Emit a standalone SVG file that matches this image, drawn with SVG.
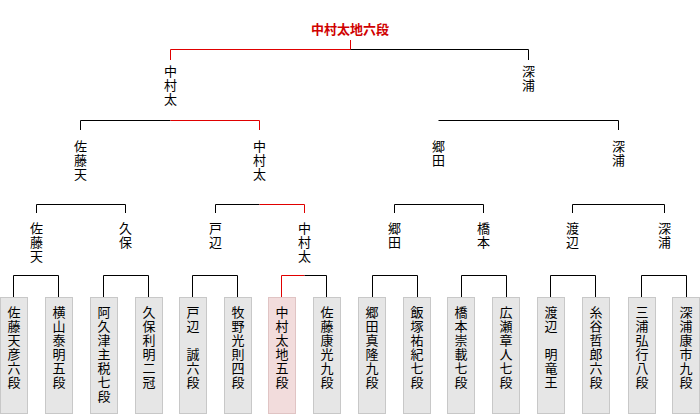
<svg xmlns="http://www.w3.org/2000/svg" width="700" height="415" viewBox="0 0 700 415">
<style>
text{font-family:"Noto Sans CJK JP",sans-serif;font-size:13px;fill:#000;text-anchor:middle}
.t{fill:#d00000;font-weight:bold}
.k{stroke:#000;stroke-width:1;fill:none}
.r{stroke:#e00000;stroke-width:1;fill:none}
.b{fill:#e6e6e6;stroke:#c8c8c8}
.w{fill:#f2dcdc;stroke:#e0c4c4}
</style>
<rect width="700" height="415" fill="#fff"/>
<g id="connectors">
<path class="r" d="M350.5 40V49.5H170.5V60"/>
<path class="k" d="M350.5 49.5H528.5V60"/>
<path class="k" d="M170.5 120.5H80.5V130"/>
<path class="r" d="M170.5 120.5H259.5V130"/>
<path class="k" d="M438.5 120.5H618.5V130"/>
<path class="k" d="M36.5 213V204.5H125.5V213"/>
<path class="k" d="M215.5 213V204.5H259.5"/>
<path class="r" d="M259.5 204.5H304.5V213"/>
<path class="k" d="M394.5 213V204.5H483.5V213"/>
<path class="k" d="M572.5 213V204.5H664.5V213"/>
<path class="k" d="M13.5 297V275.5H58.5V297"/>
<path class="k" d="M103.5 297V275.5H148.5V297"/>
<path class="k" d="M192.5 297V275.5H237.5V297"/>
<path class="r" d="M281.5 297V275.5H304.5"/>
<path class="k" d="M304.5 275.5H326.5V297"/>
<path class="k" d="M372.5 297V275.5H417.5V297"/>
<path class="k" d="M461.5 297V275.5H506.5V297"/>
<path class="k" d="M550.5 297V275.5H595.5V297"/>
<path class="k" d="M641.5 297V275.5H686.5V297"/>
</g>
<g id="final"><text class="t" x="350" y="34">中村太地六段</text></g>
<g id="r4a"><text x="170.5" y="76"><tspan x="170.5">中</tspan><tspan x="170.5" dy="14">村</tspan><tspan x="170.5" dy="14">太</tspan></text></g>
<g id="r4b"><text x="528.5" y="76"><tspan x="528.5">深</tspan><tspan x="528.5" dy="14">浦</tspan></text></g>
<g id="r3a"><text y="151"><tspan x="80.5">佐</tspan><tspan x="80.5" dy="14">藤</tspan><tspan x="80.5" dy="14">天</tspan></text></g>
<g id="r3b"><text y="151"><tspan x="259.5">中</tspan><tspan x="259.5" dy="14">村</tspan><tspan x="259.5" dy="14">太</tspan></text></g>
<g id="r3c"><text y="151"><tspan x="438.5">郷</tspan><tspan x="438.5" dy="14">田</tspan></text></g>
<g id="r3d"><text y="151"><tspan x="618.5">深</tspan><tspan x="618.5" dy="14">浦</tspan></text></g>
<g id="r2a"><text y="233"><tspan x="36.5">佐</tspan><tspan x="36.5" dy="14">藤</tspan><tspan x="36.5" dy="14">天</tspan></text></g>
<g id="r2b"><text y="233"><tspan x="125.5">久</tspan><tspan x="125.5" dy="14">保</tspan></text></g>
<g id="r2c"><text y="233"><tspan x="215.5">戸</tspan><tspan x="215.5" dy="14">辺</tspan></text></g>
<g id="r2d"><text y="233"><tspan x="304.5">中</tspan><tspan x="304.5" dy="14">村</tspan><tspan x="304.5" dy="14">太</tspan></text></g>
<g id="r2e"><text y="233"><tspan x="394.5">郷</tspan><tspan x="394.5" dy="14">田</tspan></text></g>
<g id="r2f"><text y="233"><tspan x="483.5">橋</tspan><tspan x="483.5" dy="14">本</tspan></text></g>
<g id="r2g"><text y="233"><tspan x="572.5">渡</tspan><tspan x="572.5" dy="14">辺</tspan></text></g>
<g id="r2h"><text y="233"><tspan x="664.5">深</tspan><tspan x="664.5" dy="14">浦</tspan></text></g>
<g id="p1"><rect class="b" x="0.5" y="297.5" width="27" height="116"/><text y="317"><tspan x="14">佐</tspan><tspan x="14" dy="14">藤</tspan><tspan x="14" dy="14">天</tspan><tspan x="14" dy="14">彦</tspan><tspan x="14" dy="14">六</tspan><tspan x="14" dy="14">段</tspan></text></g>
<g id="p2"><rect class="b" x="45.5" y="297.5" width="27" height="116"/><text y="317"><tspan x="59">横</tspan><tspan x="59" dy="14">山</tspan><tspan x="59" dy="14">泰</tspan><tspan x="59" dy="14">明</tspan><tspan x="59" dy="14">五</tspan><tspan x="59" dy="14">段</tspan></text></g>
<g id="p3"><rect class="b" x="90.5" y="297.5" width="27" height="116"/><text y="317"><tspan x="104">阿</tspan><tspan x="104" dy="14">久</tspan><tspan x="104" dy="14">津</tspan><tspan x="104" dy="14">主</tspan><tspan x="104" dy="14">税</tspan><tspan x="104" dy="14">七</tspan><tspan x="104" dy="14">段</tspan></text></g>
<g id="p4"><rect class="b" x="135.5" y="297.5" width="27" height="116"/><text y="317"><tspan x="149">久</tspan><tspan x="149" dy="14">保</tspan><tspan x="149" dy="14">利</tspan><tspan x="149" dy="14">明</tspan><tspan x="149" dy="14">二</tspan><tspan x="149" dy="14">冠</tspan></text></g>
<g id="p5"><rect class="b" x="179.5" y="297.5" width="27" height="116"/><text y="317"><tspan x="193">戸</tspan><tspan x="193" dy="14">辺</tspan><tspan x="193" dy="28">誠</tspan><tspan x="193" dy="14">六</tspan><tspan x="193" dy="14">段</tspan></text></g>
<g id="p6"><rect class="b" x="224.5" y="297.5" width="27" height="116"/><text y="317"><tspan x="238">牧</tspan><tspan x="238" dy="14">野</tspan><tspan x="238" dy="14">光</tspan><tspan x="238" dy="14">則</tspan><tspan x="238" dy="14">四</tspan><tspan x="238" dy="14">段</tspan></text></g>
<g id="p7"><rect class="w" x="268.5" y="297.5" width="27" height="116"/><text y="317"><tspan x="282">中</tspan><tspan x="282" dy="14">村</tspan><tspan x="282" dy="14">太</tspan><tspan x="282" dy="14">地</tspan><tspan x="282" dy="14">五</tspan><tspan x="282" dy="14">段</tspan></text></g>
<g id="p8"><rect class="b" x="313.5" y="297.5" width="27" height="116"/><text y="317"><tspan x="327">佐</tspan><tspan x="327" dy="14">藤</tspan><tspan x="327" dy="14">康</tspan><tspan x="327" dy="14">光</tspan><tspan x="327" dy="14">九</tspan><tspan x="327" dy="14">段</tspan></text></g>
<g id="p9"><rect class="b" x="358.5" y="297.5" width="27" height="116"/><text y="317"><tspan x="372">郷</tspan><tspan x="372" dy="14">田</tspan><tspan x="372" dy="14">真</tspan><tspan x="372" dy="14">隆</tspan><tspan x="372" dy="14">九</tspan><tspan x="372" dy="14">段</tspan></text></g>
<g id="p10"><rect class="b" x="403.5" y="297.5" width="27" height="116"/><text y="317"><tspan x="417">飯</tspan><tspan x="417" dy="14">塚</tspan><tspan x="417" dy="14">祐</tspan><tspan x="417" dy="14">紀</tspan><tspan x="417" dy="14">七</tspan><tspan x="417" dy="14">段</tspan></text></g>
<g id="p11"><rect class="b" x="447.5" y="297.5" width="27" height="116"/><text y="317"><tspan x="461">橋</tspan><tspan x="461" dy="14">本</tspan><tspan x="461" dy="14">崇</tspan><tspan x="461" dy="14">載</tspan><tspan x="461" dy="14">七</tspan><tspan x="461" dy="14">段</tspan></text></g>
<g id="p12"><rect class="b" x="492.5" y="297.5" width="27" height="116"/><text y="317"><tspan x="506">広</tspan><tspan x="506" dy="14">瀬</tspan><tspan x="506" dy="14">章</tspan><tspan x="506" dy="14">人</tspan><tspan x="506" dy="14">七</tspan><tspan x="506" dy="14">段</tspan></text></g>
<g id="p13"><rect class="b" x="537.5" y="297.5" width="27" height="116"/><text y="317"><tspan x="551">渡</tspan><tspan x="551" dy="14">辺</tspan><tspan x="551" dy="28">明</tspan><tspan x="551" dy="14">竜</tspan><tspan x="551" dy="14">王</tspan></text></g>
<g id="p14"><rect class="b" x="582.5" y="297.5" width="27" height="116"/><text y="317"><tspan x="596">糸</tspan><tspan x="596" dy="14">谷</tspan><tspan x="596" dy="14">哲</tspan><tspan x="596" dy="14">郎</tspan><tspan x="596" dy="14">六</tspan><tspan x="596" dy="14">段</tspan></text></g>
<g id="p15"><rect class="b" x="628.5" y="297.5" width="27" height="116"/><text y="317"><tspan x="642">三</tspan><tspan x="642" dy="14">浦</tspan><tspan x="642" dy="14">弘</tspan><tspan x="642" dy="14">行</tspan><tspan x="642" dy="14">八</tspan><tspan x="642" dy="14">段</tspan></text></g>
<g id="p16"><rect class="b" x="672.5" y="297.5" width="27" height="116"/><text y="317"><tspan x="686">深</tspan><tspan x="686" dy="14">浦</tspan><tspan x="686" dy="14">康</tspan><tspan x="686" dy="14">市</tspan><tspan x="686" dy="14">九</tspan><tspan x="686" dy="14">段</tspan></text></g>
</svg>
